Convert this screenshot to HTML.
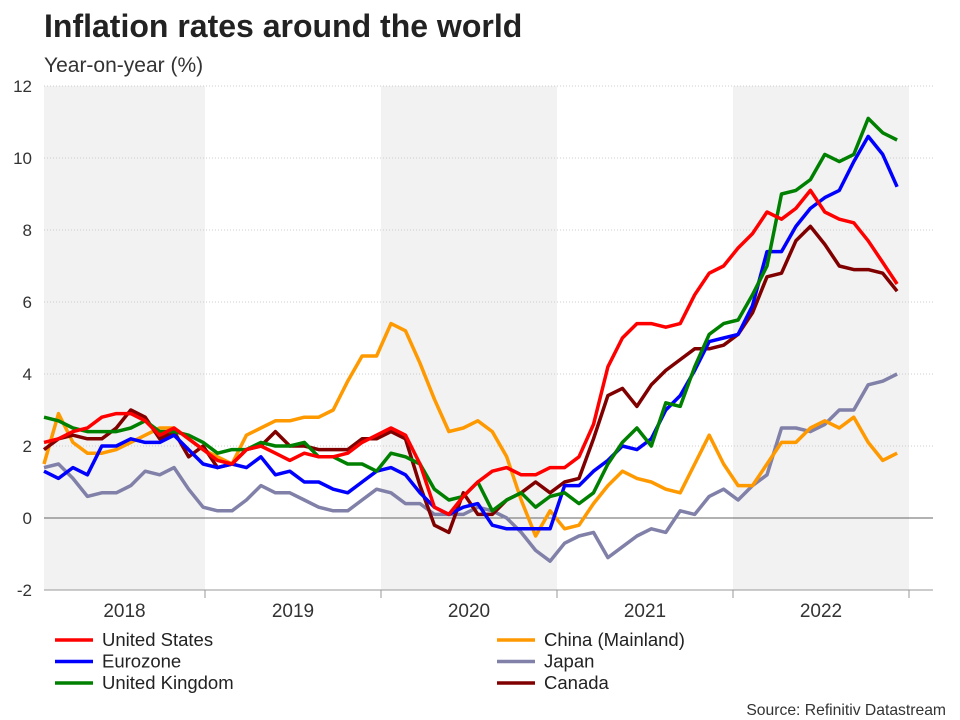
<!DOCTYPE html>
<html><head><meta charset="utf-8"><style>
body{margin:0;background:#fff;font-family:"Liberation Sans",Arial,sans-serif}
svg{display:block}
</style></head><body>
<svg width="960" height="720">
<text x="44" y="37" font-size="32" font-weight="bold" fill="#222">Inflation rates around the world</text>
<text x="44" y="72" font-size="21" fill="#333">Year-on-year (%)</text>
<g id="bands"></g><g id="grid"></g><g id="lines"></g>
<g id="legend"></g>
<text x="946" y="715" font-size="15.7" fill="#333" text-anchor="end">Source: Refinitiv Datastream</text>
</svg>
<script>
const years=["2018","2019","2020","2021","2022"];
const yTicks=[-2,0,2,4,6,8,10,12];
const seriesNames=["United States","China (Mainland)","Eurozone","Japan","United Kingdom","Canada"];
const seriesColors=["#ff0000","#ff9900","#0000ff","#8080a8","#008000","#800000"];
const us=[2.1,2.2,2.4,2.5,2.8,2.9,2.9,2.7,2.3,2.5,2.2,1.9,1.6,1.5,1.9,2.0,1.8,1.6,1.8,1.7,1.7,1.8,2.1,2.3,2.5,2.3,1.5,0.3,0.1,0.6,1.0,1.3,1.4,1.2,1.2,1.4,1.4,1.7,2.6,4.2,5.0,5.4,5.4,5.3,5.4,6.2,6.8,7.0,7.5,7.9,8.5,8.3,8.6,9.1,8.5,8.3,8.2,7.7,7.1,6.5];
const china=[1.5,2.9,2.1,1.8,1.8,1.9,2.1,2.3,2.5,2.5,2.2,1.9,1.7,1.5,2.3,2.5,2.7,2.7,2.8,2.8,3.0,3.8,4.5,4.5,5.4,5.2,4.3,3.3,2.4,2.5,2.7,2.4,1.7,0.5,-0.5,0.2,-0.3,-0.2,0.4,0.9,1.3,1.1,1.0,0.8,0.7,1.5,2.3,1.5,0.9,0.9,1.5,2.1,2.1,2.5,2.7,2.5,2.8,2.1,1.6,1.8];
const euro=[1.3,1.1,1.4,1.2,2.0,2.0,2.2,2.1,2.1,2.3,1.9,1.5,1.4,1.5,1.4,1.7,1.2,1.3,1.0,1.0,0.8,0.7,1.0,1.3,1.4,1.2,0.7,0.3,0.1,0.3,0.4,-0.2,-0.3,-0.3,-0.3,-0.3,0.9,0.9,1.3,1.6,2.0,1.9,2.2,3.0,3.4,4.1,4.9,5.0,5.1,5.9,7.4,7.4,8.1,8.6,8.9,9.1,9.9,10.6,10.1,9.2];
const japan=[1.4,1.5,1.1,0.6,0.7,0.7,0.9,1.3,1.2,1.4,0.8,0.3,0.2,0.2,0.5,0.9,0.7,0.7,0.5,0.3,0.2,0.2,0.5,0.8,0.7,0.4,0.4,0.1,0.1,0.1,0.3,0.2,0.0,-0.4,-0.9,-1.2,-0.7,-0.5,-0.4,-1.1,-0.8,-0.5,-0.3,-0.4,0.2,0.1,0.6,0.8,0.5,0.9,1.2,2.5,2.5,2.4,2.6,3.0,3.0,3.7,3.8,4.0];
const uk=[2.8,2.7,2.5,2.4,2.4,2.4,2.5,2.7,2.4,2.4,2.3,2.1,1.8,1.9,1.9,2.1,2.0,2.0,2.1,1.7,1.7,1.5,1.5,1.3,1.8,1.7,1.5,0.8,0.5,0.6,1.0,0.2,0.5,0.7,0.3,0.6,0.7,0.4,0.7,1.5,2.1,2.5,2.0,3.2,3.1,4.2,5.1,5.4,5.5,6.2,7.0,9.0,9.1,9.4,10.1,9.9,10.1,11.1,10.7,10.5];
const canada=[1.9,2.2,2.3,2.2,2.2,2.5,3.0,2.8,2.2,2.4,1.7,2.0,1.4,1.5,1.9,2.0,2.4,2.0,2.0,1.9,1.9,1.9,2.2,2.2,2.4,2.2,0.9,-0.2,-0.4,0.7,0.1,0.1,0.5,0.7,1.0,0.7,1.0,1.1,2.2,3.4,3.6,3.1,3.7,4.1,4.4,4.7,4.7,4.8,5.1,5.7,6.7,6.8,7.7,8.1,7.6,7.0,6.9,6.9,6.8,6.3];
const seriesData=[us,china,euro,japan,uk,canada];
const NS="http://www.w3.org/2000/svg";
const X0=44,X1=933,YT=86,YB=590;
const yScale=v=>YB-(v-(-2))/14*(YB-YT);
const monthX=i=>X0+i*14.46;
const yearStart=k=>29+k*176;
function mk(tag,attrs,parent){const e=document.createElementNS(NS,tag);for(const k in attrs)e.setAttribute(k,attrs[k]);parent.appendChild(e);return e;}
const bands=document.getElementById('bands'),grid=document.getElementById('grid'),lines=document.getElementById('lines'),legend=document.getElementById('legend');
years.forEach((y,k)=>{
  const a=Math.max(X0,yearStart(k)),b=yearStart(k+1);
  if(k%2==0){const r=mk('rect',{x:a,y:YT,width:b-a,height:YB-YT,fill:'#f2f2f2'},bands);
  
  }
  const t=mk('text',{x:(a+b)/2,y:617,'font-size':19,fill:'#333','text-anchor':'middle'},grid);t.textContent=y;
  
  
  const tk=mk('line',{x1:b,x2:b,y1:YB,y2:YB+8,stroke:'#999'},grid);
  
  
});
yTicks.forEach(v=>{
  const y=yScale(v);
  if(v!==0&&v!==-2){const g=mk('line',{x1:X0,x2:X1,y1:y,y2:y,stroke:'#ccc','stroke-dasharray':'1,2'},grid);
  
  }
  const t=mk('text',{x:32,y:y+6,'font-size':17,fill:'#333','text-anchor':'end'},grid);t.textContent=v;
  
  
});
const z=mk('line',{x1:X0,x2:X1,y1:yScale(0),y2:yScale(0),stroke:'#666'},grid);


const ax=mk('line',{x1:X0,x2:X1,y1:YB,y2:YB,stroke:'#999'},grid);


const drawOrder=[3,1,5,2,4,0];
drawOrder.forEach(s=>{
  const d=seriesData[s].map((v,i)=>(i?'L':'M')+monthX(i).toFixed(1)+','+yScale(v).toFixed(1)).join('');
  const p=mk('path',{d:d,fill:'none',stroke:seriesColors[s],'stroke-width':3.5,'stroke-linejoin':'round'},lines);
  
  
});
seriesNames.forEach((n,s)=>{
  const col=s%2,row=Math.floor(s/2);
  const x=col?497:55,y=640+row*21.5;
  const l=mk('line',{x1:x,x2:x+38,y1:y,y2:y,stroke:seriesColors[s],'stroke-width':3.5},legend);
  
  
  const t=mk('text',{x:x+47,y:y+6,'font-size':18.5,fill:'#222'},legend);t.textContent=n;
  
  
});
</script>
</body></html>
